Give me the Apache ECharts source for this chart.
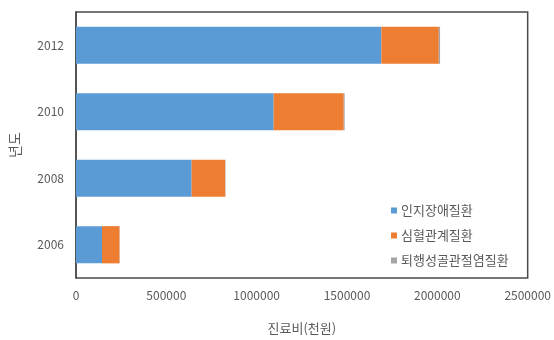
<!DOCTYPE html>
<html>
<head>
<meta charset="utf-8">
<script src="https://cdn.jsdelivr.net/npm/echarts@6/dist/echarts.min.js"></script>
<style>html,body{margin:0;padding:0;background:#fff;}#c{width:554px;height:340px;}</style>
</head>
<body>
<div id="c"></div>
<script>
const years = ['2006', '2008', '2010', '2012'];
const seriesNames = ['인지장애질환', '심혈관계질환', '퇴행성골관절염질환'];
const cognitive = [144000, 640000, 1094000, 1690000];
const cardio = [97000, 186000, 388000, 318000];
const osteo = [1000, 2000, 5000, 7000];
const xTicks = [0, 500000, 1000000, 1500000, 2000000, 2500000];

const colors = ['#5B9BD5', '#ED7D31', '#A5A5A5'];
const values = [cognitive, cardio, osteo];
const font = '"Noto Sans CJK KR", "Noto Sans", sans-serif';

const chart = echarts.init(document.getElementById('c'));
chart.setOption({
  animation: false,
  backgroundColor: '#fff',
  textStyle: { fontFamily: font },
  grid: {
    left: 75, right: 22, top: 12, bottom: 57,
    show: true, borderColor: '#4a4a4a', borderWidth: 1.5, backgroundColor: 'transparent'
  },
  legend: {
    orient: 'vertical',
    left: 386, top: 199,
    itemWidth: 6, itemHeight: 6, itemGap: 12,
    icon: 'rect',
    textStyle: { color: '#595959', fontSize: 13, fontFamily: font, padding: [0, 0, 0, -1] },
    data: seriesNames
  },
  xAxis: {
    type: 'value',
    min: xTicks[0], max: xTicks[xTicks.length - 1], interval: xTicks[1] - xTicks[0],
    name: '진료비(천원)', nameLocation: 'middle', nameGap: 44,
    nameTextStyle: { color: '#595959', fontSize: 13, fontFamily: font },
    axisLine: { show: false }, axisTick: { show: false }, splitLine: { show: false },
    axisLabel: { color: '#595959', fontSize: 12, margin: 11, fontFamily: font, formatter: v => String(v) }
  },
  yAxis: {
    type: 'category', data: years,
    name: '년도', nameLocation: 'middle', nameGap: 54, nameRotate: 90,
    nameTextStyle: { color: '#595959', fontSize: 14, fontFamily: font },
    axisLine: { show: true, lineStyle: { color: '#4a4a4a', width: 1.5 } },
    axisTick: { show: false },
    axisLabel: { color: '#595959', fontSize: 12, margin: 12, fontFamily: font }
  },
  series: seriesNames.map((n, i) => ({
    name: n, type: 'bar', stack: 'total', data: values[i],
    barCategoryGap: '44%',
    itemStyle: { color: colors[i] }
  }))
});
</script>
</body>
</html>
